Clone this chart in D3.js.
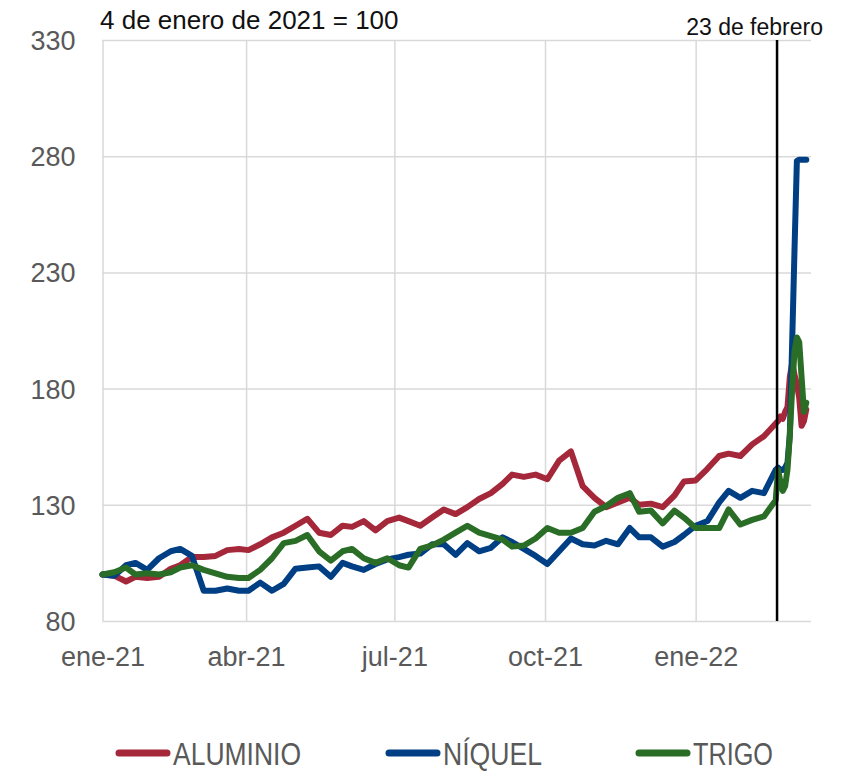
<!DOCTYPE html>
<html>
<head>
<meta charset="utf-8">
<script src="https://cdn.jsdelivr.net/npm/d3@7"></script>
<style>
  body { margin: 0; background: #fff; }
  svg text { font-family: "Liberation Sans", Arial, sans-serif; }
  .grid line { stroke: #d9d9d9; stroke-width: 1.5; }
  .grid .domain { display: none; }
  .axis text { fill: #595959; font-size: 27px; }
  .axis .domain, .axis line { display: none; }
  .serie { fill: none; stroke-width: 6; stroke-linejoin: round; stroke-linecap: round; }
</style>
</head>
<body>
<svg id="chart" width="843" height="771"></svg>
<script>
// fechas de las observaciones (lunes semanales y diario al final)
var dates = [
  "2021-01-04","2021-01-11","2021-01-18","2021-01-25","2021-02-01","2021-02-08","2021-02-15","2021-02-22",
  "2021-03-01","2021-03-08","2021-03-15","2021-03-22","2021-03-29","2021-04-05","2021-04-12","2021-04-19",
  "2021-04-26","2021-05-03","2021-05-10","2021-05-17","2021-05-24","2021-05-31","2021-06-07","2021-06-14",
  "2021-06-21","2021-06-28","2021-07-05","2021-07-12","2021-07-19","2021-07-26","2021-08-02","2021-08-09",
  "2021-08-16","2021-08-23","2021-08-30","2021-09-06","2021-09-13","2021-09-20","2021-09-27","2021-10-04",
  "2021-10-11","2021-10-18","2021-10-25","2021-11-01","2021-11-08","2021-11-15","2021-11-22","2021-11-29",
  "2021-12-06","2021-12-13","2021-12-20","2021-12-27","2022-01-03","2022-01-10","2022-01-17","2022-01-24",
  "2022-01-31","2022-02-07","2022-02-14","2022-02-22","2022-02-23","2022-02-24","2022-02-25","2022-02-28",
  "2022-03-01","2022-03-02","2022-03-03","2022-03-04","2022-03-07","2022-03-08","2022-03-09","2022-03-10",
  "2022-03-11"
];

var aluminio = [
  100, 99.5, 97, 99, 98.5, 99, 102.5, 104, 107.5, 107.5, 108, 110.5, 111, 110.5, 113, 116,
  118, 121, 124, 118, 117, 121, 120.5, 123, 119, 123, 124.5, 123, 121, 124.5, 128, 126,
  129, 132.5, 135, 139, 143, 142, 143, 141, 149, 153, 138, 133, 129, 131, 133, 130,
  130.5, 129, 134, 140, 140.5, 145.5, 151, 152, 151, 156, 159.5, 165, 166, 168, 167, 170,
  172, 185, 191, 186, 182, 176, 164, 166, 171
];

var niquel = [
  100, 99.5, 104, 105, 102, 107, 110, 111, 108, 93, 93, 94, 93, 93, 96.5, 93,
  96, 102.5, 103, 103.5, 99, 105, 103.5, 102, 104.5, 106.5, 107.5, 108.5, 109, 113, 113, 108.5,
  113.5, 110, 111.5, 116, 114, 111, 108, 104.5, 110, 115.5, 113, 112.5, 114.5, 113, 120, 116,
  116, 112, 114, 117, 121, 123, 131, 136, 133, 136, 135, 145, 146, 145, 145, 146,
  148, 160, 200, 240, 278, 278.5, 278.5, 278.5, 278.5
];

var trigo = [
  100, 101, 103, 100, 100.5, 100, 101, 103, 104, 102, 100.5, 99, 98.5, 98.5, 102, 107,
  113.5, 114.5, 117, 110, 106, 110, 111, 107, 105, 107, 104, 103, 111, 112.5, 115, 118,
  121, 118, 116.5, 115, 112, 112.5, 115.5, 120, 118, 118, 120, 127, 129.5, 133, 135, 127,
  127.5, 122, 127.5, 124.5, 120, 120, 120, 128, 121.5, 123.5, 125, 132, 145, 140, 136, 138,
  145, 160, 180, 196, 202, 200, 185, 170, 174
];

var seriesNames = ["ALUMINIO", "NÍQUEL", "TRIGO"];
var seriesColors = ["#a4283a", "#003f84", "#2a6d27"];

var yTicks = [80, 130, 180, 230, 280, 330];
var xTickDates = ["2021-01-01", "2021-04-01", "2021-07-01", "2021-10-01", "2022-01-01"];
var xTickLabels = ["ene-21", "abr-21", "jul-21", "oct-21", "ene-22"];

// dias sin mercado (eje de dias habiles)
var holidays = ["2021-01-18","2021-02-15","2021-04-02","2021-05-31","2021-07-05","2021-09-06",
                "2021-11-25","2021-12-24","2022-01-17","2022-02-21"];
var calendarStart = "2021-01-04", calendarEnd = "2022-03-15";
var markerDate = "2022-02-23";

(function() {
  var svg = d3.select("#chart"),
      margin = {top: 40, right: 32, bottom: 150, left: 102.5},
      width = +svg.attr("width") - margin.left - margin.right,
      height = +svg.attr("height") - margin.top - margin.bottom;

  var parse = d3.utcParse("%Y-%m-%d");
  var hol = new Set(holidays);
  var tradingDays = d3.utcDay.range(parse(calendarStart), parse(calendarEnd))
      .filter(function(d) {
        var wd = d.getUTCDay();
        return wd !== 0 && wd !== 6 && !hol.has(d3.utcFormat("%Y-%m-%d")(d));
      });
  // posicion = dias habiles transcurridos desde el inicio
  function dayIndex(s) { return d3.bisectLeft(tradingDays, parse(s)); }

  var x = d3.scaleLinear().domain([0, 301]).range([0, width]),
      y = d3.scaleLinear().domain([80, 330]).range([height, 0]);

  var g = svg.append("g")
      .attr("transform", "translate(" + margin.left + "," + margin.top + ")");

  var xTickPos = xTickDates.map(dayIndex);

  g.append("g")
      .attr("class", "grid")
      .call(d3.axisLeft(y).tickValues(yTicks).tickSize(-width).tickFormat(""));

  g.append("g")
      .attr("class", "grid")
      .attr("transform", "translate(0," + height + ")")
      .call(d3.axisBottom(x).tickValues(xTickPos).tickSize(height).tickFormat(""))
      .selectAll("line").attr("y2", -height);

  g.append("g")
      .attr("class", "axis axis--y")
      .call(d3.axisLeft(y).tickValues(yTicks).tickSize(0).tickPadding(27))
      .selectAll("text").attr("dy", "0.35em");

  g.append("g")
      .attr("class", "axis axis--x")
      .attr("transform", "translate(0," + height + ")")
      .call(d3.axisBottom(x).tickValues(xTickPos).tickSize(0).tickPadding(26)
            .tickFormat(function(d, i) { return xTickLabels[i]; }))
      .selectAll("text").attr("dy", "0.71em");

  var xs = dates.map(dayIndex);
  var line = d3.line()
      .x(function(d, i) { return x(xs[i]); })
      .y(function(d) { return y(d); });

  [aluminio, niquel, trigo].forEach(function(vals, k) {
    g.append("path")
        .attr("class", "serie")
        .attr("stroke", seriesColors[k])
        .attr("d", line(vals));
  });

  // linea del 23 de febrero
  var mx = x(dayIndex(markerDate)) - 1;
  g.append("line")
      .attr("x1", mx).attr("x2", mx)
      .attr("y1", 0).attr("y2", height)
      .attr("stroke", "#000").attr("stroke-width", 2.5);

  svg.append("text")
      .attr("x", 823).attr("y", 35)
      .attr("text-anchor", "end")
      .style("font-size", "23px")
      .style("fill", "#111")
      .text("23 de febrero");

  svg.append("text")
      .attr("x", 100).attr("y", 29)
      .style("font-size", "26px")
      .style("fill", "#111")
      .text("4 de enero de 2021 = 100");

  // leyenda
  var legendX = [115, 385, 635],
      legendW = [128, 99, 80];
  var legend = svg.append("g").attr("class", "legend");
  seriesNames.forEach(function(name, k) {
    legend.append("line")
        .attr("x1", legendX[k] + 4).attr("x2", legendX[k] + 52)
        .attr("y1", 753).attr("y2", 753)
        .attr("stroke", seriesColors[k])
        .attr("stroke-width", 7)
        .attr("stroke-linecap", "round");
    legend.append("text")
        .attr("x", legendX[k] + 58).attr("y", 765)
        .attr("textLength", legendW[k])
        .attr("lengthAdjust", "spacingAndGlyphs")
        .style("font-size", "31px")
        .style("fill", "#595959")
        .text(name);
  });
})();
</script>
</body>
</html>
